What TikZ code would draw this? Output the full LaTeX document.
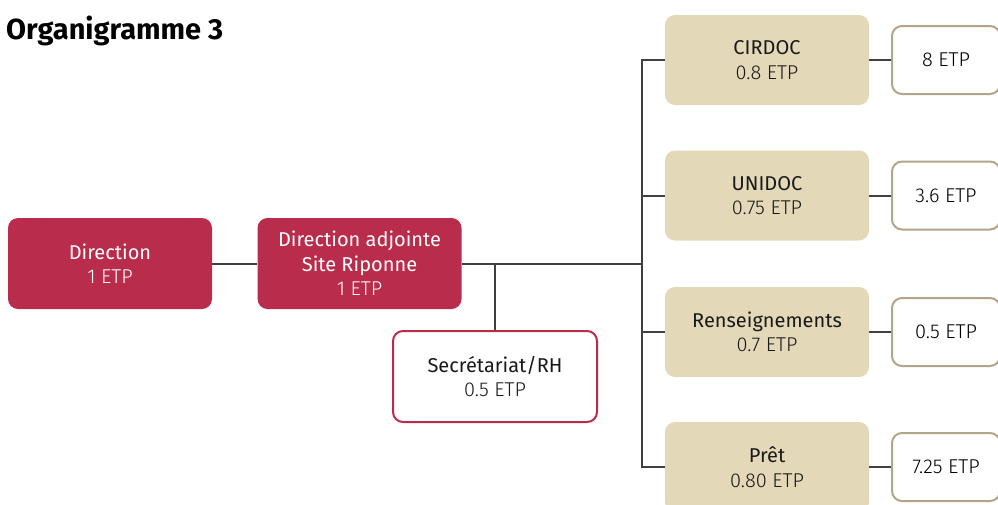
\documentclass[tikz,border=0pt]{standalone}
\usepackage{fontspec}
\setmainfont{Fira Sans}
\newfontfamily\lightfont{Fira Sans Light}
\usetikzlibrary{positioning,calc}
\definecolor{crimson}{HTML}{BA2C4C}
\definecolor{sand}{HTML}{E3D8B8}
\definecolor{tan}{HTML}{B3A587}
\definecolor{wire}{HTML}{404040}
\newcommand{\etp}[1]{\\{\lightfont #1}}

\begin{document}
\begin{tikzpicture}[x=1pt,y=-1pt,
    unitbox/.style={rounded corners=10pt, minimum width=204pt, minimum height=91pt,
      align=center, inner sep=0pt, font=\fontsize{20}{24.5}\selectfont},
    headbox/.style={unitbox, fill=crimson, text=white},
    staffbox/.style={unitbox, draw=crimson, line width=2pt, fill=white, text=black!90},
    servbox/.style={unitbox, fill=sand, text=black!90, minimum height=90pt},
    countbox/.style={rounded corners=10pt, draw=tan, line width=2pt, fill=white,
      minimum width=108pt, minimum height=68pt, inner sep=0pt,
      font=\lightfont\fontsize{20}{24.5}\selectfont},
    link/.style={draw=wire, line width=2pt}]
        \useasboundingbox (0,0) rectangle (998,504);
        % title
        \node[anchor=base west, inner sep=0pt, font=\bfseries\fontsize{29}{32}\selectfont] (title) at (6,39) {Organigramme 3};
        % direction
        \node[headbox] (dir) at (110,263.5) {Direction\etp{1 ETP}};
        \node[headbox] (adj) at (359.5,263.5) {Direction adjointe\\Site Riponne\etp{1 ETP}};
        \node[staffbox] (sec) at (495,376.5) {Secrétariat/RH\etp{0.5 ETP}};
        % services
        \node[servbox] (cir) at (767,60) {CIRDOC\etp{0.8 ETP}};
        \node[servbox] (uni) at (767,195.5) {UNIDOC\etp{0.75 ETP}};
        \node[servbox] (ren) at (767,332) {Renseignements\etp{0.7 ETP}};
        \node[servbox] (pre) at (767,467) {Prêt\etp{0.80 ETP}};
        \node[countbox] (cirn) at (946,60) {8 ETP};
        \node[countbox] (unin) at (946,195.5) {3.6 ETP};
        \node[countbox] (renn) at (946,332) {0.5 ETP};
        \node[countbox] (pren) at (946,467) {7.25 ETP};
        % connectors
        \coordinate (bus) at (642,263.5);
        \draw[link] (dir) -- (adj);
        \draw[link] (adj.east) -- (bus);
        \draw[link] (sec.north) -- (sec.north |- adj.east);
        \draw[link] (cir.west) -- (cir.west -| bus) -- (pre.west -| bus) -- (pre.west);
        \draw[link] (uni.west) -- (uni.west -| bus);
        \draw[link] (ren.west) -- (ren.west -| bus);
        \draw[link] (cir) -- (cirn);
        \draw[link] (uni) -- (unin);
        \draw[link] (ren) -- (renn);
        \draw[link] (pre) -- (pren);
\end{tikzpicture}
\end{document}
